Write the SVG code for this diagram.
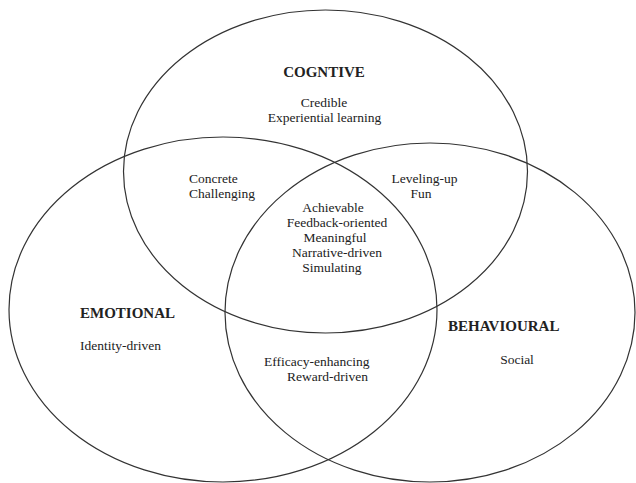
<svg xmlns="http://www.w3.org/2000/svg" width="636" height="483" viewBox="0 0 636 483">
<style>
.c{fill:none;stroke:#333;stroke-width:1.2}
.t{font-family:"Liberation Serif","Times New Roman",serif;font-size:13.5px;fill:#222}
.h{font-family:"Liberation Serif","Times New Roman",serif;font-size:15px;font-weight:bold;fill:#222}
</style>
<rect width="636" height="483" fill="#fff"/>
<g id="connectors"></g>
<g id="cognitive">
<ellipse class="c" cx="325.5" cy="171.5" rx="202" ry="161.5"/>
<text class="h" x="324" y="77" text-anchor="middle">COGNTIVE</text>
<text class="t" x="324" y="107" text-anchor="middle">Credible</text>
<text class="t" x="324.5" y="122" text-anchor="middle">Experiential learning</text>
</g>
<g id="emotional">
<ellipse class="c" cx="223" cy="309.5" rx="214" ry="172.5"/>
<text class="h" x="80" y="318">EMOTIONAL</text>
<text class="t" x="80" y="350">Identity-driven</text>
</g>
<g id="behavioural">
<ellipse class="c" cx="430" cy="312.5" rx="205" ry="169.5"/>
<text class="h" x="448" y="331">BEHAVIOURAL</text>
<text class="t" x="517" y="363.5" text-anchor="middle">Social</text>
</g>
<g id="cog-emo">
<text class="t" x="189" y="182.5">Concrete</text>
<text class="t" x="189" y="197.5">Challenging</text>
</g>
<g id="cog-beh">
<text class="t" x="424.5" y="182.5" text-anchor="middle">Leveling-up</text>
<text class="t" x="421" y="197.5" text-anchor="middle">Fun</text>
</g>
<g id="all">
<text class="t" x="333" y="212" text-anchor="middle">Achievable</text>
<text class="t" x="337" y="227" text-anchor="middle">Feedback-oriented</text>
<text class="t" x="335" y="242" text-anchor="middle">Meaningful</text>
<text class="t" x="337" y="257" text-anchor="middle">Narrative-driven</text>
<text class="t" x="332" y="272" text-anchor="middle">Simulating</text>
</g>
<g id="emo-beh">
<text class="t" x="264" y="365.5">Efficacy-enhancing</text>
<text class="t" x="287" y="380.5">Reward-driven</text>
</g>
</svg>
